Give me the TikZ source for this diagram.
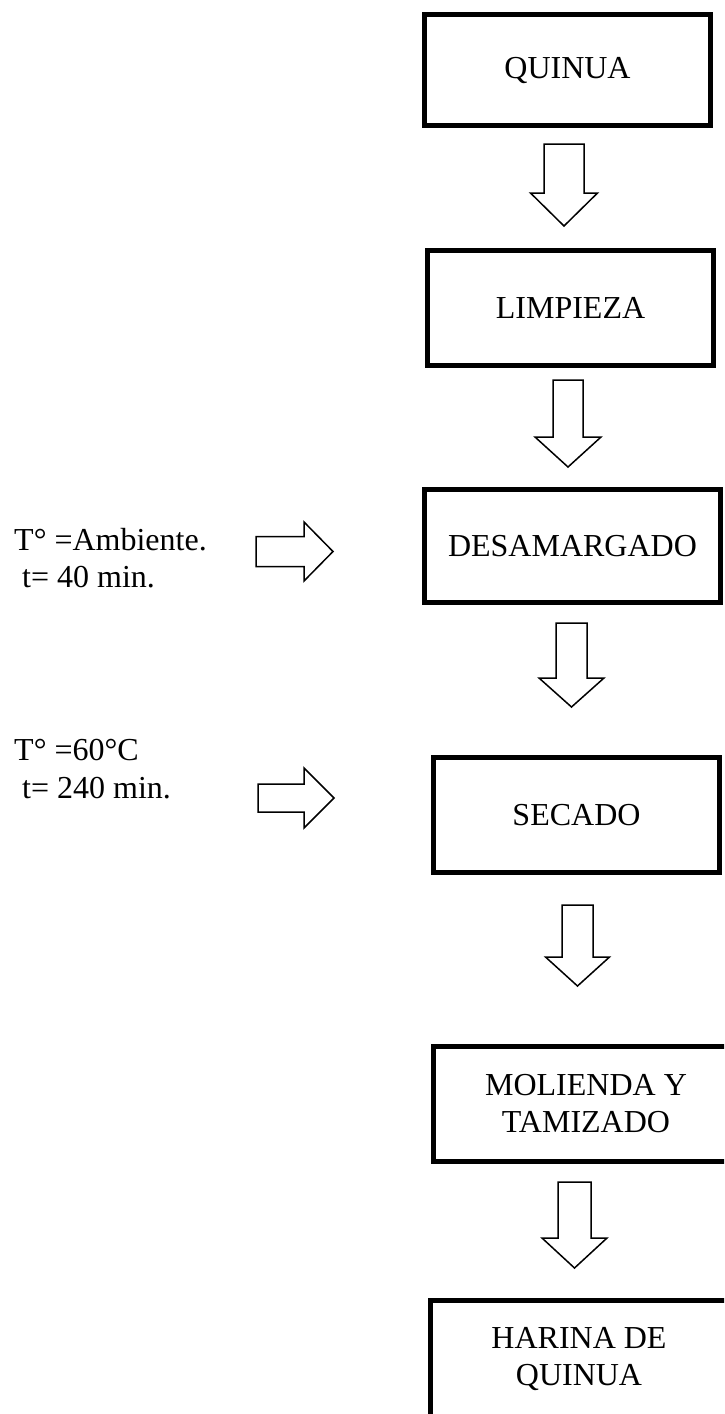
\documentclass[tikz,border=0pt]{standalone}
\usepackage{fontspec}
\setmainfont{Liberation Serif}
\newcommand\dnarrow[7]{% name, x center, half stem, half head, top, shoulder, tip
  \draw[blockarrow] (#2-#3,#5) coordinate (#1) -- (#2+#3,#5) -- (#2+#3,#6) -- (#2+#4,#6) -- (#2,#7) -- (#2-#4,#6) -- (#2-#3,#6) -- cycle;}
\newcommand\rtarrow[7]{% name, y center, half stem, half head, left, shoulder, tip
  \draw[blockarrow] (#5,#2-#3) coordinate (#1) -- (#6,#2-#3) -- (#6,#2-#4) -- (#7,#2) -- (#6,#2+#4) -- (#6,#2+#3) -- (#5,#2+#3) -- cycle;}
\begin{document}
\begin{tikzpicture}[x=1pt,y=-1pt,
  box/.style={draw=black, line width=5pt, fill=white, inner sep=0pt, align=center,
    font=\fontsize{32pt}{37pt}\selectfont},
  blockarrow/.style={draw=black, line width=1.5pt, fill=white, line join=miter},
  note/.style={anchor=base west, inner sep=0pt, font=\fontsize{32pt}{37pt}\selectfont}]
\useasboundingbox (0,0) rectangle (724,1414);
\clip (0,0) rectangle (724,1414);
\fill[white] (0,0) rectangle (724,1414);

\node[box, minimum width=286pt, minimum height=111pt] (quinua) at (567.5,70) {QUINUA};
\node[box, minimum width=286pt, minimum height=115pt] (limpieza) at (570.5,307.5) {LIMPIEZA};
\node[box, minimum width=296pt, minimum height=113pt] (desamargado) at (572.5,546) {DESAMARGADO};
\node[box, minimum width=286pt, minimum height=115pt] (secado) at (576.5,815) {SECADO};
\node[box, minimum width=305pt, minimum height=115pt] (molienda) at (586,1104) {MOLIENDA Y\\TAMIZADO};
\node[box, minimum width=297pt, minimum height=118pt] (harina) at (579,1359) {HARINA DE\\QUINUA};

\dnarrow{a1}{564}{20}{33.5}{144}{193}{226}
\dnarrow{a2}{568}{15}{33}{380}{437}{467}
\dnarrow{a3}{571.5}{15.5}{32.5}{623}{678}{707}
\dnarrow{a4}{577.5}{15.5}{32}{905}{957}{986}
\dnarrow{a5}{574.5}{16.5}{32.5}{1182}{1238}{1268}

\rtarrow{s1}{551.5}{15}{29.5}{256}{304}{333}
\rtarrow{s2}{798}{14}{30}{258}{304}{334}

\node[note] (t1) at (14,550) {T° =Ambiente.};
\node[note] (t2) at (22,587) {t= 40 min.};
\node[note] (t3) at (14,760) {T° =60°C};
\node[note] (t4) at (22,798) {t= 240 min.};
\end{tikzpicture}
\end{document}
